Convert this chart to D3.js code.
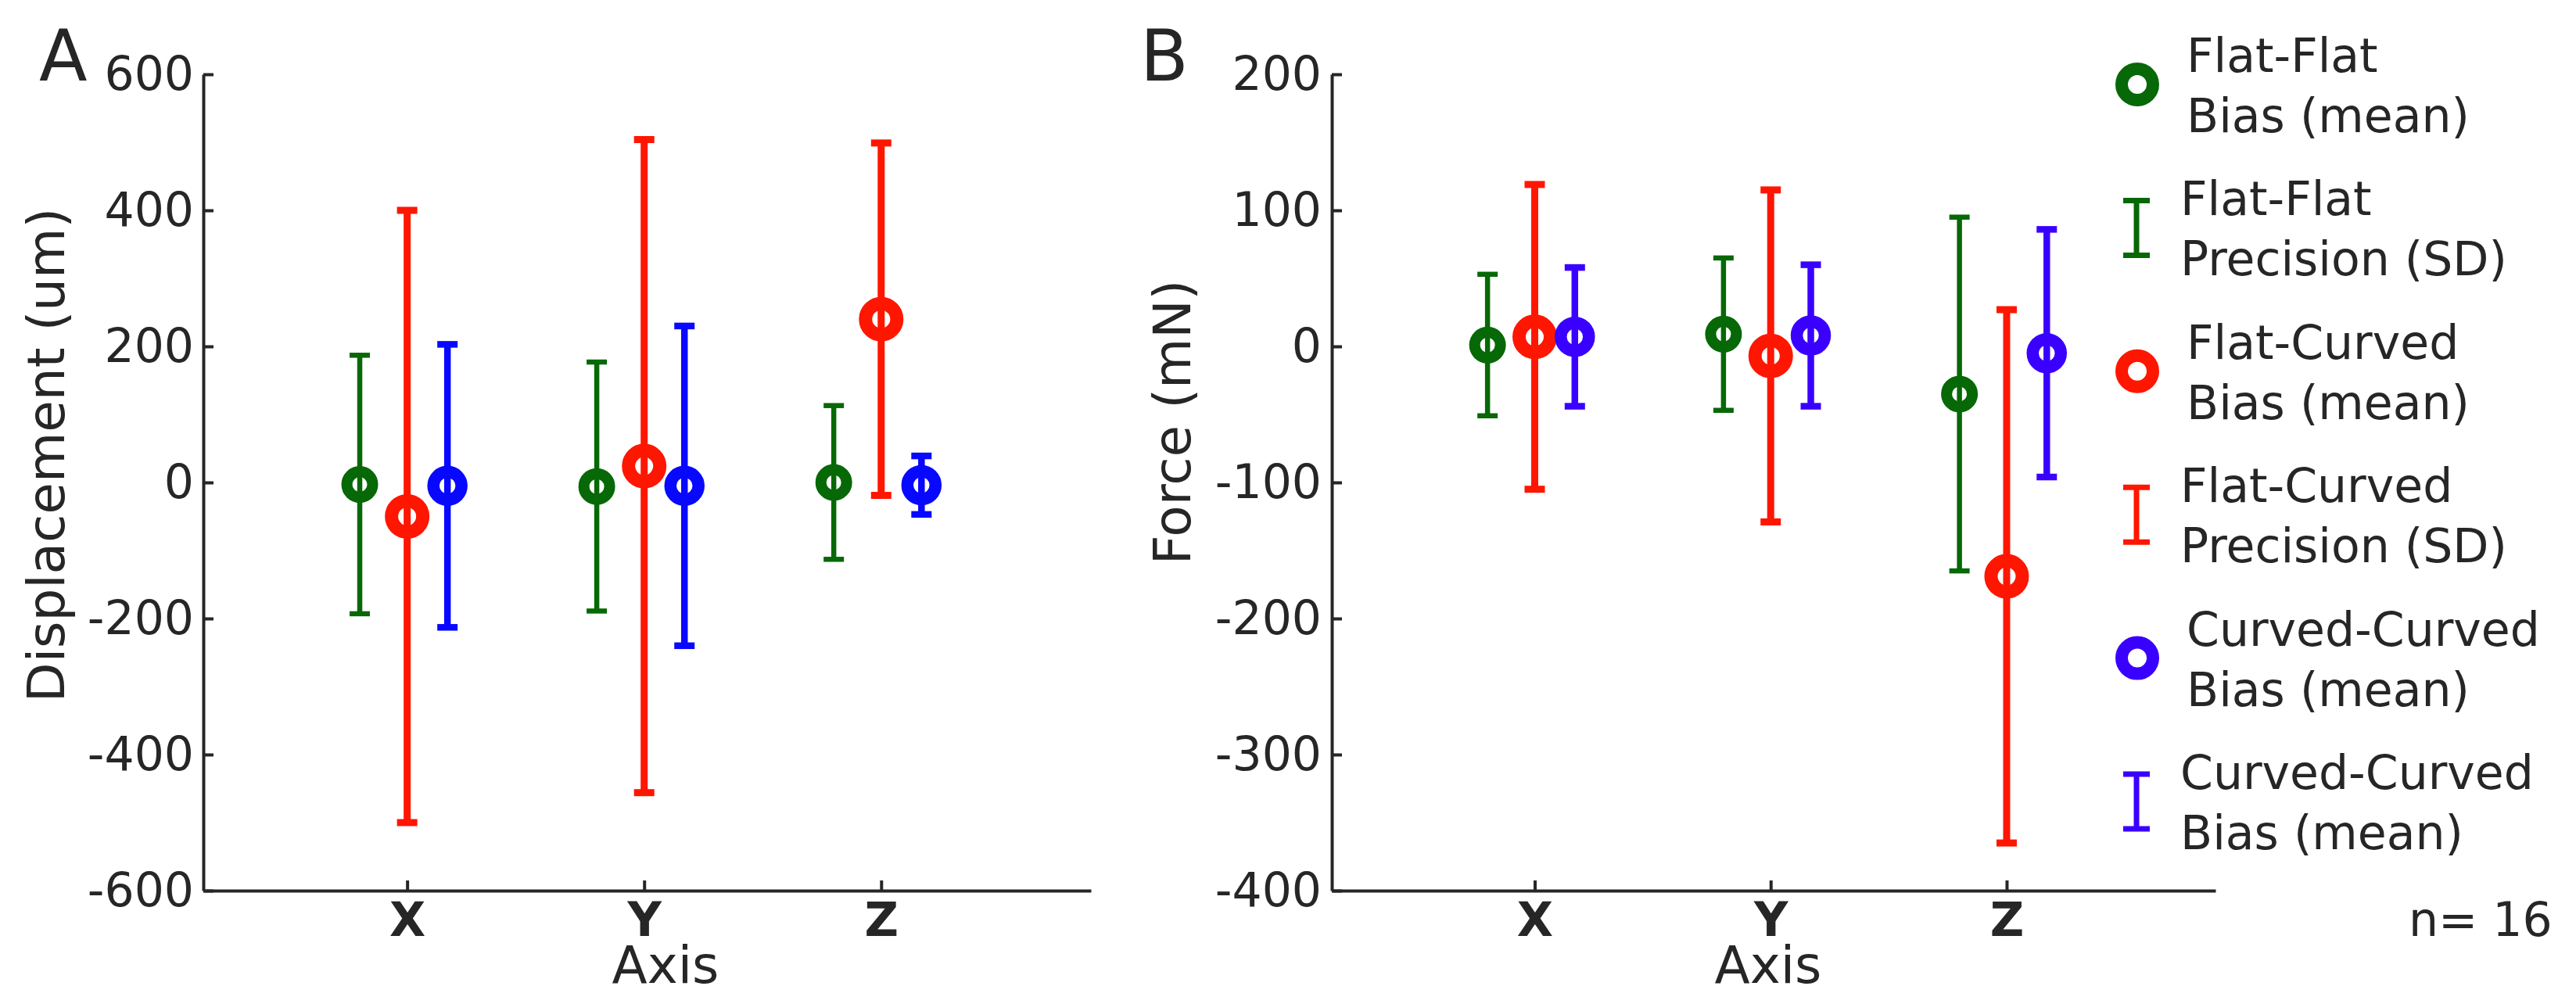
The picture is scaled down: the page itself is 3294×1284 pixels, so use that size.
<!DOCTYPE html>
<html>
<head>
<meta charset="utf-8">
<script src="https://cdn.jsdelivr.net/npm/d3@7"></script>
<style>
  body { margin: 0; background: #fff; }
  svg text { font-family: 'DejaVu Sans', sans-serif; fill: #262626; }
</style>
</head>
<body>
<svg id="chart" width="3294" height="1284"></svg>
<script>
// categories and tick values
const categories = ['X', 'Y', 'Z'];
const dispTicks = [-600, -400, -200, 0, 200, 400, 600];
const forceTicks = [-400, -300, -200, -100, 0, 100, 200];

// panel A: displacement (um)
const dispFlatFlatMean = [-3, -6, 0];
const dispFlatFlatSD = [190, 183, 113];
const dispFlatCurvedMean = [-50, 24, 240];
const dispFlatCurvedSD = [450, 480, 259];
const dispCurvedCurvedMean = [-5, -5, -4];
const dispCurvedCurvedSD = [208, 235, 43];

// panel B: force (mN)
const forceFlatFlatMean = [1, 9, -35];
const forceFlatFlatSD = [52, 56, 130];
const forceFlatCurvedMean = [7, -7, -169];
const forceFlatCurvedSD = [112, 122, 196];
const forceCurvedCurvedMean = [7, 8, -5];
const forceCurvedCurvedSD = [51, 52, 91];

// legend
const legendLabels = [
  ['Flat-Flat', 'Bias (mean)'],
  ['Flat-Flat', 'Precision (SD)'],
  ['Flat-Curved', 'Bias (mean)'],
  ['Flat-Curved', 'Precision (SD)'],
  ['Curved-Curved', 'Bias (mean)'],
  ['Curved-Curved', 'Bias (mean)']
];
const legendKinds = ['ring', 'bar', 'ring', 'bar', 'ring', 'bar'];

const axisColor = '#262626';
const green = '#066806', red = '#ff1600', blueA = '#0808ff', blueB = '#3a00ff';

// per series style (offset in axis units, marker radius / stroke, bar width)
const seriesStyle = [
  { off: -0.2, r: 16.5, sw: 14, lw: 6.5 },
  { off: 0, r: 20, sw: 17, lw: 9 },
  { off: 0.17, r: 18, sw: 15.5, lw: 8.5 }
];

const svg = d3.select('#chart');

function drawPanel(opts) {
  const { x0, x1, yDomain, ticks, means, sds, colors, yLabel, yLabelX, yLabelY, letter, letterX, labelRight } = opts;
  const top = 95, bottom = 1139;

  const x = d3.scaleLinear().domain([0.14, 3.885]).range([x0, x1]);
  const y = d3.scaleLinear().domain(yDomain).range([bottom, top]);

  const g = svg.append('g');

  // error bars + markers
  means.forEach((m, i) => {
    const st = seriesStyle[i];
    const sg = g.append('g');
    m.forEach((v, j) => {
      const cx = x(j + 1 + st.off);
      const lo = y(v - sds[i][j]), hi = y(v + sds[i][j]);
      sg.append('line').attr('x1', cx).attr('x2', cx).attr('y1', lo).attr('y2', hi)
        .attr('stroke', colors[i]).attr('stroke-width', st.lw);
      [lo, hi].forEach(yy => {
        sg.append('line').attr('x1', cx - 13).attr('x2', cx + 13).attr('y1', yy).attr('y2', yy)
          .attr('stroke', colors[i]).attr('stroke-width', st.lw);
      });
    });
    sg.selectAll('circle.m')
      .data(m)
      .enter()
      .append('circle')
      .attr('cx', (d, j) => x(j + 1 + st.off))
      .attr('cy', d => y(d))
      .attr('r', st.r)
      .attr('fill', 'none')
      .attr('stroke', colors[i])
      .attr('stroke-width', st.sw);
  });

  // axes (plain hyphen for negatives, as in the original)
  const yAxis = d3.axisLeft(y).tickValues(ticks).tickFormat(d => String(d))
    .tickSizeInner(-13).tickSizeOuter(0).tickPadding(12);
  const ya = g.append('g').attr('transform', `translate(${x0},0)`).call(yAxis);
  ya.selectAll('text').attr('font-size', 60).attr('x', labelRight - x0).style('font-family', 'DejaVu Sans');

  const xAxis = d3.axisBottom(x).tickValues([1, 2, 3]).tickFormat(d => categories[d - 1])
    .tickSizeInner(-13).tickSizeOuter(0).tickPadding(15);
  const xa = g.append('g').attr('transform', `translate(0,${bottom})`).call(xAxis);
  xa.selectAll('text').attr('font-size', 60).attr('font-weight', 'bold').style('font-family', 'DejaVu Sans');

  [ya, xa].forEach(a => {
    a.select('.domain').attr('stroke', axisColor).attr('stroke-width', 4);
    a.selectAll('.tick line').attr('stroke', axisColor).attr('stroke-width', 4);
    a.selectAll('text').attr('fill', axisColor);
  });

  // labels
  g.append('text')
    .attr('transform', `translate(${yLabelX},${yLabelY}) rotate(-90)`)
    .attr('text-anchor', 'middle')
    .attr('font-size', 66)
    .text(yLabel);

  g.append('text')
    .attr('x', opts.axisLabelX)
    .attr('y', 1257)
    .attr('text-anchor', 'middle')
    .attr('font-size', 66)
    .text('Axis');

  g.append('text')
    .attr('x', letterX)
    .attr('y', 103)
    .attr('font-size', 90)
    .text(letter);
}

drawPanel({
  x0: 260, x1: 1395,
  yDomain: [-600, 600],
  ticks: dispTicks,
  means: [dispFlatFlatMean, dispFlatCurvedMean, dispCurvedCurvedMean],
  sds: [dispFlatFlatSD, dispFlatCurvedSD, dispCurvedCurvedSD],
  colors: [green, red, blueA],
  yLabel: 'Displacement (um)', yLabelX: 82, yLabelY: 582,
  letter: 'A', letterX: 50,
  labelRight: 248,
  axisLabelX: 851
});

drawPanel({
  x0: 1703, x1: 2833,
  yDomain: [-400, 200],
  ticks: forceTicks,
  means: [forceFlatFlatMean, forceFlatCurvedMean, forceCurvedCurvedMean],
  sds: [forceFlatFlatSD, forceFlatCurvedSD, forceCurvedCurvedSD],
  colors: [green, red, blueB],
  yLabel: 'Force (mN)', yLabelX: 1522, yLabelY: 540,
  letter: 'B', letterX: 1458,
  labelRight: 1690,
  axisLabelX: 2261
});

// legend
const legendColors = [green, green, red, red, blueB, blueB];
const ly = d3.scalePoint().domain(d3.range(legendLabels.length)).range([108, 1025]);
const leg = svg.append('g');

legendLabels.forEach((lines, i) => {
  const cy = ly(i);
  const c = legendColors[i];
  const tx = legendKinds[i] === 'ring' ? 2796 : 2788;
  if (legendKinds[i] === 'ring') {
    leg.append('circle').attr('cx', 2733).attr('cy', cy).attr('r', 20)
      .attr('fill', 'none').attr('stroke', c).attr('stroke-width', 16);
  } else {
    leg.append('line').attr('x1', 2732).attr('x2', 2732).attr('y1', cy - 35).attr('y2', cy + 35)
      .attr('stroke', c).attr('stroke-width', 7);
    [cy - 35, cy + 35].forEach(yy => {
      leg.append('line').attr('x1', 2715).attr('x2', 2749).attr('y1', yy).attr('y2', yy)
        .attr('stroke', c).attr('stroke-width', 7);
    });
  }
  const t = leg.append('text')
    .attr('x', tx)
    .attr('y', cy - 16)
    .attr('font-size', 60);
  t.append('tspan').attr('x', tx).text(lines[0]);
  t.append('tspan').attr('x', tx).attr('dy', 77).text(lines[1]);
});

svg.append('text')
  .attr('x', 3080)
  .attr('y', 1197)
  .attr('font-size', 60)
  .text('n= 16');
</script>
</body>
</html>
